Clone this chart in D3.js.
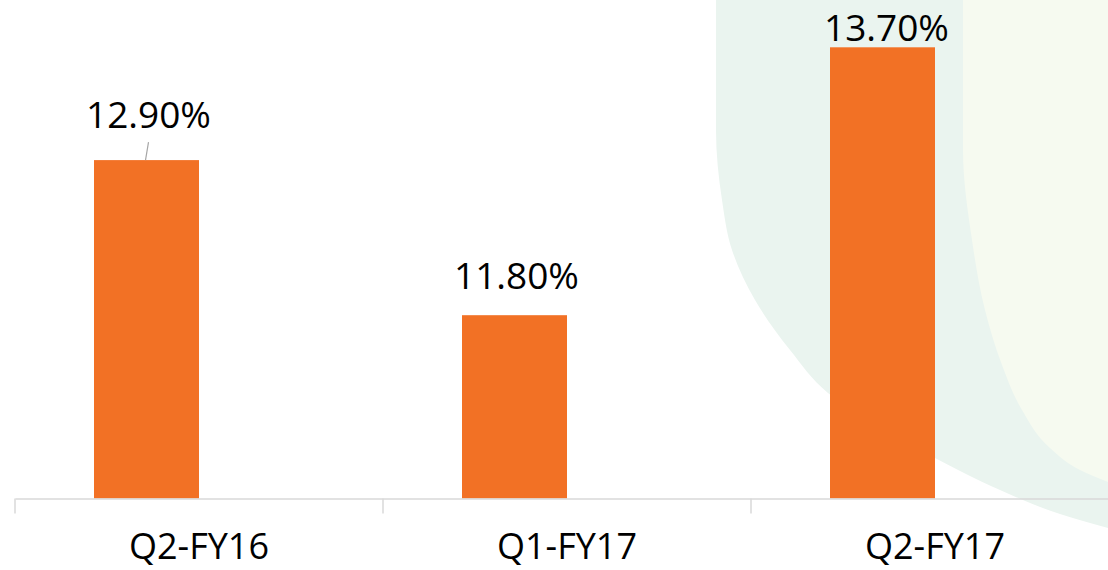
<!DOCTYPE html>
<html>
<head>
<meta charset="utf-8">
<script src="https://cdn.jsdelivr.net/npm/d3@7"></script>
<style>
  html, body { margin: 0; padding: 0; background: #ffffff; }
  svg { display: block; }
  text { font-family: "Open Sans", "Noto Sans", sans-serif; }
</style>
</head>
<body>
<script>
// ---- data ----
const categories = ["Q2-FY16", "Q1-FY17", "Q2-FY17"];
const values = [12.9, 11.8, 13.7];
const valueLabels = ["12.90%", "11.80%", "13.70%"];
const seriesSlots = ["value", "empty"];   // clustered layout: 2 slots, 2nd empty
const yDomain = [10.5, 14];

const W = 1108, H = 570;
const svg = d3.select("body").append("svg").attr("width", W).attr("height", H);

// decorative background shapes
const curve = d3.line().curve(d3.curveMonotoneY);
const outerPts = [[716,0],[716,130],[722,200],[732,250],[755,300],[790,350],[828,393],[880,428],[935,458],[1000,490],[1060,514],[1108,528]];
const innerPts = [[963,0],[963,150],[972,240],[985,310],[1002,365],[1022,410],[1050,448],[1080,470],[1108,482]];
svg.append("path")
  .attr("d", curve(outerPts) + "L1108,0Z")
  .attr("fill", "#eaf4ef");
svg.append("path")
  .attr("d", curve(innerPts) + "L1108,0Z")
  .attr("fill", "#f6faf0");

// scales
const x = d3.scaleBand().domain(categories).range([15, 1119]).padding(0);
const xs = d3.scaleBand().domain(seriesSlots).range([79, x.bandwidth() - 79]).padding(0);
const y = d3.scaleLinear().domain(yDomain).range([498.5, 5]);

// bars
svg.append("g").selectAll("rect.bar")
  .data(categories.map((c, i) => ({ c, v: values[i] })))
  .join("rect")
  .attr("class", "bar")
  .attr("x", d => x(d.c) + xs("value"))
  .attr("width", xs.bandwidth())
  .attr("y", d => y(d.v))
  .attr("height", d => y(yDomain[0]) - y(d.v))
  .attr("fill", "#f27125");

// axis
const axisY = 498.5;
const axis = d3.axisBottom(x).tickSize(0).tickPadding(0);
const ax = svg.append("g").attr("transform", `translate(0,${axisY})`).call(axis);
ax.select(".domain").attr("stroke", "#d9d9d9").attr("stroke-width", 1.5);
ax.selectAll(".tick text")
  .attr("y", 60)
  .attr("dy", 0)
  .attr("fill", "#000")
  .style("font-size", "36px")
  .style("font-family", "'Open Sans', sans-serif");

// tick marks at band boundaries
const bounds = categories.map(c => x(c)).concat([x.range()[1]]);
svg.append("g").selectAll("line")
  .data(bounds)
  .join("line")
  .attr("x1", d => d).attr("x2", d => d)
  .attr("y1", axisY).attr("y2", axisY + 15)
  .attr("stroke", "#d9d9d9").attr("stroke-width", 1.5);

// data labels
const gaps = [32, 26, 6];
const lbl = svg.append("g");
categories.forEach((c, i) => {
  const cx = x(c) + xs("value") + xs.bandwidth() / 2;
  const top = y(values[i]);
  lbl.append("text")
    .attr("x", cx + (i === 2 ? 4 : 2))
    .attr("y", top - gaps[i])
    .attr("text-anchor", "middle")
    .attr("fill", "#000")
    .style("font-size", "37px")
    .text(valueLabels[i]);
  if (i === 0) {
    lbl.append("line")
      .attr("x1", cx + 2).attr("y1", top - 18)
      .attr("x2", cx - 1).attr("y2", top)
      .attr("stroke", "#a6a6a6").attr("stroke-width", 1.2);
  }
});
</script>
</body>
</html>
